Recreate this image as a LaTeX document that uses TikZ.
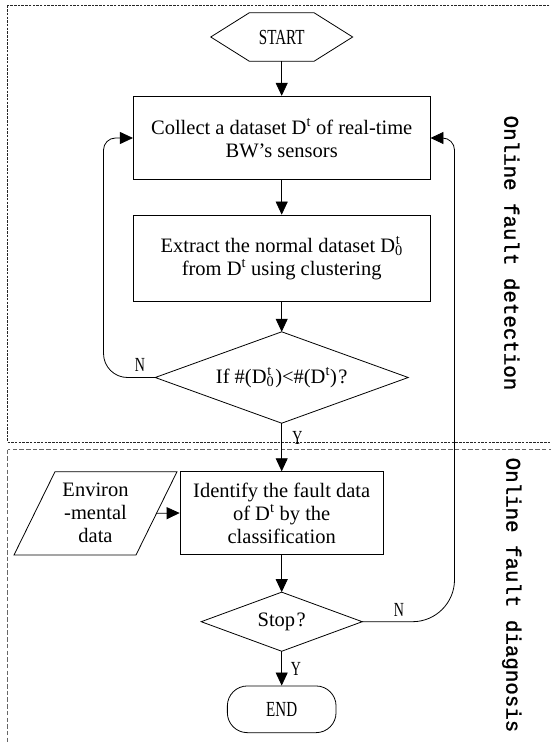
\documentclass[tikz,border=0pt]{standalone}
\usepackage{fontspec}
\setmainfont{Liberation Serif}
\newfontfamily\condfont{Liberation Serif}[FakeStretch=0.7]
\newfontfamily\monofont{Liberation Mono}[FakeBold=1.2]
\usetikzlibrary{arrows.meta,calc}

\tikzset{
  body/.style={font=\fontsize{20.5}{23}\selectfont, align=center},
  procbox/.style={body, draw, line width=0.8pt, rectangle, inner sep=0pt},
  frame/.style={rectangle, inner sep=0pt, font=\fontsize{20.5}{23}\selectfont, align=center},
  term/.style={font=\condfont\fontsize{21.5}{23}\selectfont},
  yn/.style={font=\condfont\fontsize{20}{22}\selectfont, inner sep=0pt},
  side/.style={font=\monofont\fontsize{20.8}{24}\selectfont, rotate=-90, inner sep=0pt},
  arr/.style={line width=0.8pt, -{Triangle[length=13pt,width=12pt]}},
  edge/.style={line width=0.8pt}
}

% stacked sub- and superscript: D with 0 below and t above
\newcommand{\Dzt}{D\rlap{\textsuperscript{\kern0.8pt t}}\textsubscript{0}}

\begin{document}
\begin{tikzpicture}[x=1pt,y=-1pt]
\useasboundingbox (0,0) rectangle (550,743);
\fill[white] (0,0) rectangle (550,743);

% stage frames
\draw[line width=0.7pt, black!85, dash pattern=on 2.5pt off 1.2pt]
  (7.5,5.5) rectangle (556,442);
\draw[line width=0.7pt, black!60, dash pattern=on 4.5pt off 2.2pt]
  (7.5,449.5) rectangle (556,750);

% start (hexagon)
\node[frame, term, minimum width=141.5pt, minimum height=48pt] (start) at (281.7,37) {START};
\draw[edge] (start.west) -- ($(start.north west)+(38.5,0)$) -- ($(start.north east)+(-38.5,0)$)
  -- (start.east) -- ($(start.south east)+(-38.5,0)$) -- ($(start.south west)+(38.5,0)$) -- cycle;

% detection stage
\node[procbox, minimum width=296.7pt, minimum height=83.5pt] (b1) at (281.7,138)
  {Collect a dataset D\textsuperscript{t} of real-time\\BW’s sensors};
\node[procbox, minimum width=296.7pt, minimum height=86pt] (b2) at (281.7,258)
  {Extract the normal dataset \Dzt\\from D\textsuperscript{t} using clustering};
\node[frame, minimum width=252.6pt, minimum height=91pt] (d1) at (281.7,377.5)
  {If \#(\Dzt\kern1pt)<\#(D\textsuperscript{t})\kern1.5pt?};
\draw[edge] (d1.north) -- (d1.east) -- (d1.south) -- (d1.west) -- cycle;

% diagnosis stage
\node[procbox, minimum width=203.3pt, minimum height=82.6pt] (b3) at (281.7,513)
  {Identify the fault data\\of D\textsuperscript{t} by the\\classification};
\node[frame] (env) at (95.5,513.3) {Environ\\-mental\\data};
\draw[edge] ($(env.center)+(-40.5,-41.6)$) -- ($(env.center)+(81.5,-41.6)$)
  -- ($(env.center)+(40.5,41.7)$) -- ($(env.center)+(-81.5,41.7)$) -- cycle;
\coordinate (envE) at ($(env.center)+(61,0)$);

\node[frame, minimum width=160.6pt, minimum height=58.7pt] (d2) at (281.7,621.7)
  {Stop\kern1.5pt?};
\draw[edge] (d2.north) -- (d2.east) -- (d2.south) -- (d2.west) -- cycle;

\node[draw, line width=0.8pt, rounded corners=20pt, term, minimum width=108.7pt,
  minimum height=46.7pt, inner sep=0pt] (end) at (281.7,709.3) {END};

% loop rails
\coordinate (lx) at (103.5,0);
\coordinate (rx) at (454.5,0);

% connectors
\draw[arr] (start.south) -- (b1.north);
\draw[arr] (b1.south) -- (b2.north);
\draw[arr] (b2.south) -- (d1.north);
\draw[arr] (d1.south) -- (b3.north);
\draw[arr] (envE) -- (b3.west);
\draw[arr] (b3.south) -- (d2.north);
\draw[arr] (d2.south) -- (end.north);
\draw[arr] (d1.west) [rounded corners=24pt] -- (d1.west -| lx)
  [rounded corners=12pt] -- (b1.west -| lx) -- (b1.west);
\draw[arr] (d2.east) [rounded corners=42pt] -- (d2.east -| rx)
  [rounded corners=12pt] -- (b1.east -| rx) -- (b1.east);

% branch labels
\node[yn] (n1) at (140,365) {N};
\node[yn] (y1) at (297.5,438) {Y};
\node[yn] (n2) at (399,610) {N};
\node[yn] (y2) at (296,669) {Y};

% stage captions
\node[side] (cap1) at (511.7,253) {Online fault detection};
\node[side] (cap2) at (511.7,595) {Online fault diagnosis};
\end{tikzpicture}
\end{document}
